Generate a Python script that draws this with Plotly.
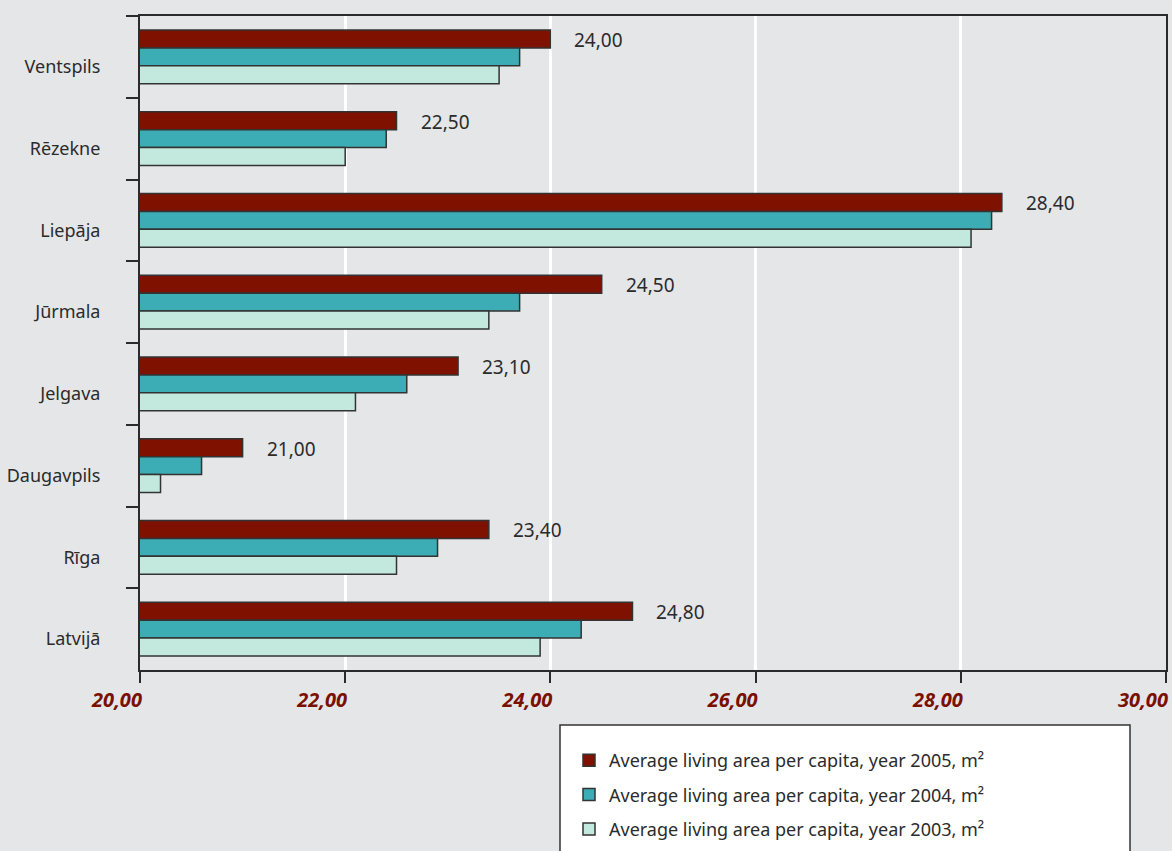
import plotly.graph_objects as go

categories = ["Ventspils", "Rēzekne", "Liepāja", "Jūrmala", "Jelgava", "Daugavpils", "Rīga", "Latvijā"]
area_2005 = [24.0, 22.5, 28.4, 24.5, 23.1, 21.0, 23.4, 24.8]
area_2004 = [23.7, 22.4, 28.3, 23.7, 22.6, 20.6, 22.9, 24.3]
area_2003 = [23.5, 22.0, 28.1, 23.4, 22.1, 20.2, 22.5, 23.9]
series_names = [
    "Average living area per capita, year 2005, m²",
    "Average living area per capita, year 2004, m²",
    "Average living area per capita, year 2003, m²",
]
x_ticks = [20, 22, 24, 26, 28, 30]

colors = ["#7f1100", "#3dadb5", "#c3e8dd"]
BG = "#e5e6e8"
FONT = "Noto Sans"

fig = go.Figure()
for i, (vals, name, col) in enumerate(zip([area_2005, area_2004, area_2003], series_names, colors)):
    fig.add_trace(go.Bar(
        y=categories, x=vals, name=name, orientation="h",
        marker=dict(color=col, line=dict(color="#333333", width=1.5)),
        legendgroup=f"g{i}",
        hoverinfo="x+y",
    ))

W, H = 1172, 851
L, R, T, B = 140, 6, 16, 181
pw, ph = W - L - R, H - T - B
def px_x(p):
    return (p - L) / pw
def px_y(p):
    return (H - B - p) / ph

cat_h = ph / len(categories)
bargap = 0.34
bar_h = cat_h * (1 - bargap) / 3

for c, v in zip(categories, area_2005):
    fig.add_annotation(
        x=v, y=c, xref="x", yref="y", text=f"{v:.2f}".replace(".", ","),
        showarrow=False, xanchor="left", yanchor="middle", xshift=22, yshift=bar_h - 1,
        font=dict(family=FONT, size=19, color="#2b2b2b"),
    )

fig.add_shape(type="rect", xref="paper", yref="paper",
              x0=px_x(560), x1=px_x(1130), y0=px_y(725), y1=px_y(862),
              fillcolor="white", line=dict(color="#333333", width=1.5), layer="below")

fig.update_layout(
    width=W, height=H,
    margin=dict(l=L, r=R, t=T, b=B, pad=0, autoexpand=False),
    paper_bgcolor=BG, plot_bgcolor=BG,
    barmode="group", bargap=bargap, bargroupgap=0,
    separators=",.",
    font=dict(family=FONT, color="#2b2b2b"),
    showlegend=True,
    legend=dict(
        x=px_x(569), y=px_y(742), xanchor="left", yanchor="top",
        bgcolor="rgba(0,0,0,0)", borderwidth=0,
        font=dict(family=FONT, size=18, color="#2b2b2b"),
        tracegroupgap=8, traceorder="grouped",
    ),
    xaxis=dict(
        range=[20, 30], tickvals=x_ticks, tickformat=".2f",
        showgrid=True, gridcolor="white", gridwidth=3,
        showline=True, linecolor="#2b2b2b", linewidth=2, mirror=True,
        ticks="outside", ticklen=11, tickwidth=1.5, tickcolor="#2b2b2b",
        tickfont=dict(family=FONT, size=20, color="#7a1000", weight="bold", style="italic"),
        ticklabelshift=-23, ticklabeloverflow="allow",
        zeroline=False, fixedrange=True,
    ),
    yaxis=dict(
        type="category", autorange="reversed", tickson="boundaries",
        showgrid=False, showline=True, linecolor="#2b2b2b", linewidth=2, mirror=True,
        ticks="outside", ticklen=12, tickwidth=1.5, tickcolor="#2b2b2b",
        tickfont=dict(family=FONT, size=18, color="#2b2b2b"),
        ticklabelstandoff=34, ticklabelshift=-10,
        fixedrange=True,
    ),
)

fig.write_html("out.html")
